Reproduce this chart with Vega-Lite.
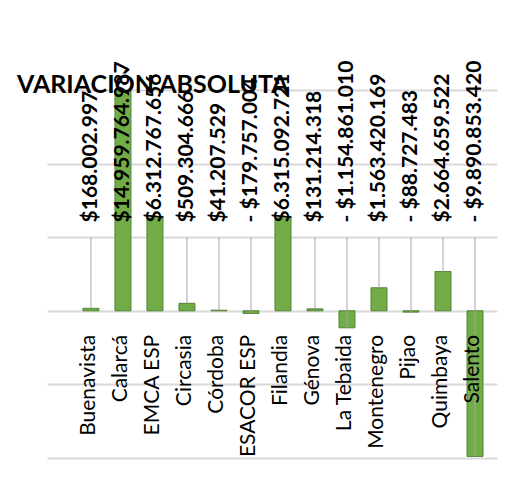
{
  "$schema": "https://vega.github.io/schema/vega-lite/v6.json",
  "autosize": {"type": "none"},
  "padding": {"left": 47, "top": 90, "right": 32, "bottom": 32},
  "width": 450,
  "height": 368,
  "background": "white",
  "title": {"text": "VARIACIÓN ABSOLUTA", "anchor": "start", "frame": "group", "fontSize": 25, "fontWeight": "bold", "font": "Lato", "color": "#000000", "offset": -37, "dx": -30},
  "config": {"view": {"stroke": null}, "font": "Lato"},
  "data": {"values": [
    {"cat": "Buenavista", "value": 168002997, "label": "$168.002.997"},
    {"cat": "Calarcá", "value": 14959764987, "label": "$14.959.764.987"},
    {"cat": "EMCA ESP", "value": 6312767656, "label": "$6.312.767.656"},
    {"cat": "Circasia", "value": 509304666, "label": "$509.304.666"},
    {"cat": "Córdoba", "value": 41207529, "label": "$41.207.529"},
    {"cat": "ESACOR ESP", "value": -179757004, "label": "- $179.757.004"},
    {"cat": "Filandia", "value": 6315092721, "label": "$6.315.092.721"},
    {"cat": "Génova", "value": 131214318, "label": "$131.214.318"},
    {"cat": "La Tebaida", "value": -1154861010, "label": "- $1.154.861.010"},
    {"cat": "Montenegro", "value": 1563420169, "label": "$1.563.420.169"},
    {"cat": "Pijao", "value": -88727483, "label": "- $88.727.483"},
    {"cat": "Quimbaya", "value": 2664659522, "label": "$2.664.659.522"},
    {"cat": "Salento", "value": -9890853420, "label": "- $9.890.853.420"}
  ]},
  "encoding": {
    "x": {"field": "cat", "type": "nominal", "sort": null, "axis": null,
          "scale": {"paddingInner": 0.5, "paddingOuter": 0.78, "align": 0.72}}
  },
  "layer": [
    {
      "mark": {"type": "bar", "color": "#70AD47", "stroke": "#548235", "strokeWidth": 1},
      "encoding": {
        "y": {"field": "value", "type": "quantitative",
              "scale": {"domain": [-10000000000, 15000000000], "nice": false, "zero": false},
              "axis": {"values": [-10000000000, -5000000000, 0, 5000000000, 10000000000, 15000000000],
                       "domain": false, "ticks": false, "labels": false, "title": null,
                       "gridColor": "#d9d9d9", "gridWidth": 2}}
      }
    },
    {
      "transform": [{"filter": "datum.value < 5000000000"}],
      "mark": {"type": "rule", "color": "#a6a6a6", "strokeWidth": 1},
      "encoding": {
        "y": {"field": "value", "type": "quantitative"},
        "y2": {"datum": 5000000000}
      }
    },
    {
      "mark": {"type": "text", "angle": -90, "align": "left", "baseline": "middle", "fontWeight": "bold", "fontSize": 21, "color": "#000000"},
      "encoding": {
        "y": {"datum": 6000000000, "type": "quantitative"},
        "text": {"field": "label"}
      }
    },
    {
      "mark": {"type": "text", "angle": -90, "align": "right", "baseline": "middle", "fontSize": 21, "dx": -24, "dy": -2, "color": "#000000"},
      "encoding": {
        "y": {"datum": 0, "type": "quantitative"},
        "text": {"field": "cat"}
      }
    }
  ]
}
